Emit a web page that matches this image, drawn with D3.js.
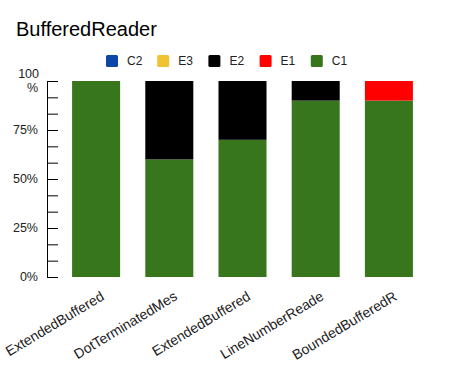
<!DOCTYPE html>
<html>
<head>
<meta charset="utf-8">
<script src="https://cdn.jsdelivr.net/npm/d3@7"></script>
<style>
  body { margin: 0; background: #fff; }
  text { font-family: "Liberation Sans", Arial, sans-serif; }
</style>
</head>
<body>
<div id="chart"></div>
<script>
const categories = ["ExtendedBuffered", "DotTerminatedMes", "ExtendedBuffered", "LineNumberReade", "BoundedBufferedR"];
const seriesNames = ["C1", "E1", "E2", "E3", "C2"];
const C1 = [100, 60, 70, 90, 90];
const E1 = [0, 0, 0, 0, 10];
const E2 = [0, 40, 30, 10, 0];
const E3 = [0, 0, 0, 0, 0];
const C2 = [0, 0, 0, 0, 0];
const legendOrder = ["C2", "E3", "E2", "E1", "C1"];
const yTicks = [0, 25, 50, 75, 100];

const colors = { C1: "#38761d", E1: "#ff0000", E2: "#000000", E3: "#f1c232", C2: "#0b47a8" };
const seriesValues = { C1, E1, E2, E3, C2 };

const width = 452, height = 371;
const svg = d3.select("#chart").append("svg")
    .attr("width", width)
    .attr("height", height);

// title
svg.append("text")
    .attr("x", 16)
    .attr("y", 36)
    .attr("font-size", 20)
    .attr("fill", "#000")
    .text("BufferedReader");

const table = categories.map((c, i) => {
    const row = { idx: i };
    seriesNames.forEach(s => row[s] = seriesValues[s][i]);
    return row;
});

const x = d3.scaleBand()
    .domain(d3.range(categories.length))
    .range([59.5, 425.5])
    .paddingInner(0.344)
    .paddingOuter(0.172);

const y = d3.scaleLinear()
    .domain([0, 100])
    .range([277, 81]);

const stack = d3.stack().keys(seriesNames);
const layers = stack(table);

svg.selectAll(".layer")
    .data(layers)
    .enter()
    .append("g")
    .attr("class", "layer")
    .attr("fill", d => colors[d.key])
    .selectAll("rect")
    .data(d => d)
    .enter()
    .append("rect")
    .attr("x", d => x(d.data.idx))
    .attr("y", d => y(d[1]))
    .attr("width", x.bandwidth())
    .attr("height", d => y(d[0]) - y(d[1]));

// y axis with minor ticks
const allTicks = d3.range(0, 101, 100 / 12);
const yAxis = svg.append("g")
    .attr("transform", "translate(47,0)")
    .call(d3.axisLeft(y)
        .tickValues(allTicks)
        .tickSize(-11)
        .tickSizeOuter(0)
        .tickPadding(9)
        .tickFormat(() => ""));
yAxis.select(".domain").attr("stroke", "#000");
yAxis.selectAll(".tick line").attr("stroke", "#000");

const yLabels = svg.append("g").attr("font-size", 12.5).attr("fill", "#222");
yTicks.forEach(v => {
    if (v === 100) {
        const t = yLabels.append("text").attr("text-anchor", "end");
        t.append("tspan").attr("x", 39).attr("y", y(v) - 3).text("100");
        t.append("tspan").attr("x", 38).attr("y", y(v) + 11).text("%");
    } else {
        yLabels.append("text")
            .attr("text-anchor", "end")
            .attr("x", 38)
            .attr("y", y(v) + 4)
            .text(v + "%");
    }
});

// x labels
svg.append("g")
    .selectAll("text")
    .data(categories)
    .enter()
    .append("text")
    .attr("font-size", 14)
    .attr("fill", "#222")
    .attr("text-anchor", "end")
    .attr("transform", (d, i) => `translate(${x(i) + x.bandwidth() / 2 + 9},${299}) rotate(-31)`)
    .text(d => d);

// legend
const legend = svg.append("g").attr("font-size", 12).attr("fill", "#222");
legendOrder.forEach((k, i) => {
    const lx = 106 + i * 51.2;
    legend.append("rect")
        .attr("x", lx)
        .attr("y", 55)
        .attr("width", 12)
        .attr("height", 12)
        .attr("rx", 1.5)
        .attr("fill", colors[k]);
    legend.append("text")
        .attr("x", lx + 21)
        .attr("y", 65)
        .text(k);
});
</script>
</body>
</html>
